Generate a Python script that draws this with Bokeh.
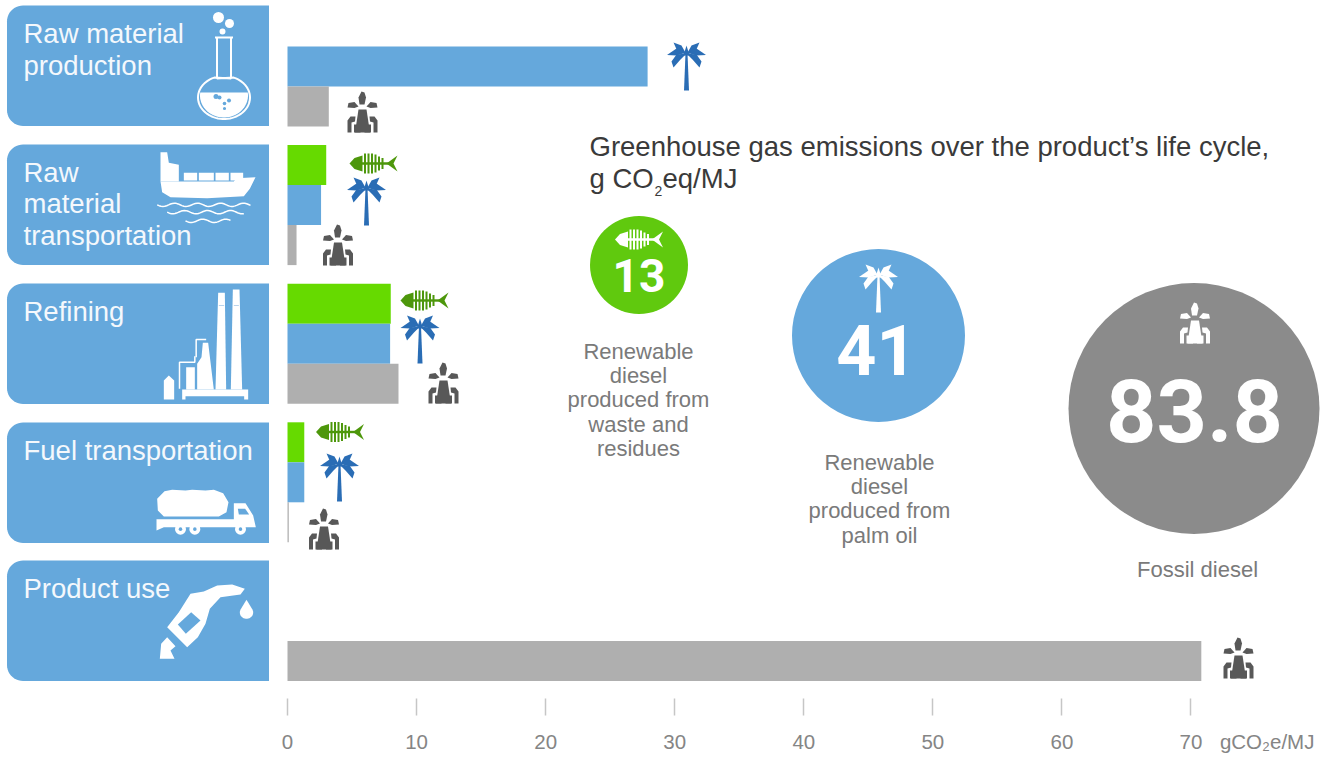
import numpy as np
from bokeh.embed import file_html
from bokeh.resources import INLINE
from bokeh.plotting import figure
from bokeh.models import Range1d, FixedTicker, Label

# ---------- data ----------
stages = ["Raw material production", "Raw material transportation", "Refining", "Fuel transportation", "Product use"]
waste_values = [None, 3.0, 8.0, 1.3, None]
palm_values = [27.9, 2.6, 7.95, 1.3, None]
fossil_values = [3.2, 0.7, 8.6, 0.1, 70.8]
axis_ticks = [0, 10, 20, 30, 40, 50, 60, 70]
totals = ["13", "41", "83.8"]
panel_lines = [["Raw material", "production"], ["Raw", "material", "transportation"], ["Refining"], ["Fuel transportation"], ["Product use"]]
captions = [["Renewable", "diesel", "produced from", "waste and", "residues"], ["Renewable", "diesel", "produced from", "palm oil"], ["Fossil diesel"]]
title_lines = ["Greenhouse gas emissions over the product\u2019s life cycle,", "g CO", "eq/MJ"]
unit_label = "gCO\u2082e/MJ"

# ---------- style ----------
BLUE = "#65A8DC"; GREEN = "#66DA00"; GREY = "#AFAFAF"
CGREEN = "#60C90E"; CGREY = "#8B8B8B"
PALM = "#2A6DB5"; FISH = "#4D970B"; PUMP = "#585858"
W, H, FH = 1335, 758, 698
PX_PER_UNIT = 12.907; X0 = 287.0
PITCH = 138.6; Y0 = 66.0; BAR = 40.0
UNIT_AT = 75.9

p = figure(width=W, height=H, output_backend="svg", toolbar_location=None, min_border=0,
           min_border_bottom=H - FH, frame_width=W, frame_height=FH,
           x_range=Range1d(-X0 / PX_PER_UNIT, (W - X0) / PX_PER_UNIT),
           y_range=Range1d((FH - Y0) / PITCH, -Y0 / PITCH))
p.extra_x_ranges["px"] = Range1d(0, W)
p.extra_y_ranges["px"] = Range1d(FH, 0)
p.outline_line_color = None
p.grid.visible = False
p.yaxis.visible = False
ax = p.xaxis[0]
# the unit is carried as one more labelled tick; the visible tick marks are the ones at the numbers
ax.ticker = FixedTicker(ticks=axis_ticks + [UNIT_AT], minor_ticks=axis_ticks)
ax.major_label_overrides = {UNIT_AT: unit_label}
ax.axis_line_color = None
ax.major_tick_line_color = None
ax.major_tick_in = 0
ax.major_tick_out = 17
ax.minor_tick_line_color = "#c6c6c6"
ax.minor_tick_line_width = 1.5
ax.minor_tick_in = 0
ax.minor_tick_out = 17
ax.major_label_text_font = "Liberation Sans"
ax.major_label_text_font_size = "20.5px"
ax.major_label_text_color = "#858585"
ax.major_label_standoff = 14

PK = dict(x_range_name="px", y_range_name="px")

def poly(xs, ys, color):
    p.patch(list(xs), list(ys), fill_color=color, line_color=None, **PK)

def line(xs, ys, color, w=2):
    p.line(list(xs), list(ys), line_color=color, line_width=w, **PK)

def dot(x, y, r, color):
    p.circle([x], [y], radius=r, fill_color=color, line_color=None, **PK)

def txt(x, y, s, size, color, align="left", font="Liberation Sans", style="normal"):
    p.add_layout(Label(x=x, y=y, text=s, text_font=font, text_font_size=f"{size}px", text_color=color,
                       text_align=align, text_baseline="middle", text_font_style=style, **PK))

# ---------- panels ----------
panel_tops = [5, 144, 283, 422, 560]
for top in panel_tops:
    bot = top + 120.5
    r = 16.0
    t = np.linspace(0, np.pi / 2, 12)
    xs = [268.5, 268.5] + list(6.5 + r - r * np.sin(t)) + list(6.5 + r - r * np.cos(t))
    ys = [top, bot] + list(bot - r + r * np.cos(t)) + list(top + r - r * np.sin(t))
    poly(xs, ys, BLUE)

line_tops = [[33, 65], [172, 203, 235], [311], [450], [588]]
for lines, ys in zip(panel_lines, line_tops):
    for s, y in zip(lines, ys):
        txt(23, y, s, 27.5, "#F4F8FC")

# ---------- bars ----------
for vals, off, col in ((waste_values, -1, GREEN), (palm_values, 0, BLUE), (fossil_values, 1, GREY)):
    ys = [i + off * BAR / PITCH for i, v in enumerate(vals) if v is not None]
    rs = [v for v in vals if v is not None]
    p.hbar(y=ys, left=0, right=rs, height=BAR / PITCH, fill_color=col, line_color=None)

# ---------- pictograms ----------
def palm(cx, cy, color):
    poly([cx - 1, cx + 1, cx + 2.5, cx - 2.5], [cy, cy, cy + 37, cy + 37], color)
    for m in (-1, 1):
        poly([cx, cx + m * 5, cx + m * 13, cx + m * 9], [cy + 1, cy - 8, cy - 11, cy - 2], color)
        poly([cx, cx + m * 10, cx + m * 19.5, cx + m * 10], [cy - 1, cy - 5, cy + 1.5, cy + 2], color)
        poly([cx, cx + m * 10, cx + m * 15, cx + m * 13, cx + m * 6], [cy, cy + 1, cy + 8, cy + 14, cy + 6], color)
    poly([cx - 3, cx, cx + 3], [cy + 2, cy - 8, cy + 2], color)

def fish(cx, cy, color):
    poly([cx - 24, cx - 19, cx - 11, cx - 11, cx - 19], [cy, cy - 5.5, cy - 8, cy + 8, cy + 5.5], color)
    poly([cx - 12, cx + 16, cx + 16, cx - 12], [cy - 1.2, cy - 1.2, cy + 1.2, cy + 1.2], color)
    for dx, h in ((-8.5, 10), (-5, 10), (-1.5, 10), (2, 9), (5.5, 7), (9, 5.5)):
        poly([cx + dx - 1, cx + dx + 1, cx + dx + 1, cx + dx - 1], [cy - h, cy - h, cy + h, cy + h], color)
    poly([cx + 13, cx + 24, cx + 20, cx + 24], [cy, cy - 8, cy, cy + 8], color)

def pump(cx, top, color):
    poly([cx - 1, cx - 4, cx - 3, cx + 2, cx + 3.5, cx + 2], [top, top + 6, top + 13, top + 13, top + 6, top + 1], color)
    for m in (-1, 1):
        poly([cx + m * 4, cx + m * 8, cx + m * 14, cx + m * 15, cx + m * 8],
             [top + 15, top + 10.5, top + 11.5, top + 16, top + 16.5], color)
        poly([cx + m * 7, cx + m * 12, cx + m * 15, cx + m * 15, cx + m * 11, cx + m * 11, cx + m * 7.5],
             [top + 25, top + 25, top + 29, top + 41, top + 41, top + 31, top + 30], color)
        poly([cx + m * 2, cx + m * 2, cx + m * 8.5, cx + m * 8.5], [top + 33, top + 41, top + 41, top + 33], color)
    poly([cx - 4, cx + 4, cx + 7.5, cx - 7.5], [top + 18, top + 18, top + 41, top + 41], color)

for x, y in ((686, 53), (366, 188), (419.5, 326), (339, 464)):
    palm(x, y, PALM)
for x, y in ((373, 163), (424, 300), (339.5, 431.5)):
    fish(x, y, FISH)
for x, y in ((362, 91), (337.5, 224), (443, 362), (323.5, 508), (1238, 637)):
    pump(x, y, PUMP)

WHITE = "#FFFFFF"
# flask
a = np.radians(np.linspace(-68, 248, 60))
line([216.5, 216.5] + list(223.5 + 26 * np.cos(a)) + [230.5, 230.5],
     [37, 78] + list(97 + 21.5 * np.sin(a)) + [78, 37], WHITE, 2)
line([214.5, 232.5], [37, 37], WHITE, 2)
b = np.radians(np.linspace(-8, 188, 40))
poly(list(223.5 + 24 * np.cos(b)), list(95 + 22 * np.sin(b)), WHITE)
for x, y, r in ((218, 17, 5.5), (229, 23, 4.5), (222, 31, 3)):
    dot(x, y, r, WHITE)
for x, y, r in ((215.5, 96, 2.5), (219, 97, 2), (224, 103, 1.8), (228.5, 100, 2), (224, 108, 1.6)):
    dot(x, y, r, BLUE)

# ship (local coords are a 3x sketch)
def Z(ox, oy, pts):
    return [ox + q[0] / 3 for q in pts], [oy + q[1] / 3 for q in pts]
S = (150, 145)
poly(*Z(*S, [(30, 108), (250, 108), (258, 98), (315, 95), (298, 130), (280, 152), (170, 158), (60, 155), (35, 140)]), WHITE)
poly(*Z(*S, [(30, 20), (50, 20), (55, 52), (85, 58), (85, 108), (30, 108)]), WHITE)
for a0, a1 in ((100, 140), (145, 190), (195, 235), (240, 278)):
    poly(*Z(*S, [(a0, 82), (a1, 82), (a1, 105), (a0, 105)]), WHITE)
for x0, x1, y0 in ((20, 300, 178), (50, 280, 200), (105, 240, 226)):
    xx = np.linspace(x0, x1, 50)
    line(150 + xx / 3, 145 + (y0 + 5 * np.sin((xx - x0) / 11)) / 3, WHITE, 1.5)

# refinery
R = (155, 285)
poly(*Z(*R, [(188, 22), (208, 22), (212, 312), (180, 312)]), WHITE)
poly(*Z(*R, [(232, 12), (252, 12), (260, 312), (226, 312)]), WHITE)
poly(*Z(*R, [(80, 312), (278, 312), (278, 342), (266, 342), (266, 332), (90, 332), (90, 342), (80, 342)]), WHITE)
poly(*Z(*R, [(142, 172), (158, 172), (175, 312), (125, 312), (125, 235), (138, 215)]), WHITE)
poly(*Z(*R, [(92, 245), (118, 245), (118, 312), (92, 312)]), WHITE)
poly(*Z(*R, [(25, 285), (40, 270), (56, 285), (56, 342), (25, 342)]), WHITE)
line(*Z(*R, [(122, 215), (122, 162), (152, 162)]), WHITE, 1.5)
line(*Z(*R, [(72, 310), (72, 230), (118, 230), (118, 212)]), WHITE, 1.5)
line(*Z(*R, [(190, 60), (206, 60)]), "#B9D4EC", 1)
line(*Z(*R, [(235, 60), (250, 60)]), "#B9D4EC", 1)

# truck
T = (150, 480)
poly(*Z(*T, [(42, 32), (65, 28), (105, 30), (125, 28), (165, 30), (190, 28), (218, 38), (234, 65), (228, 95), (205, 108),
             (40, 108), (22, 90), (20, 55)]), WHITE)
poly(*Z(*T, [(18, 116), (250, 116), (250, 68), (285, 68), (308, 105), (316, 140), (150, 140), (40, 140), (18, 150)]), WHITE)
poly(*Z(*T, [(262, 85), (284, 85), (296, 102), (265, 102)]), BLUE)
for cx in (90, 133, 270):
    dot(150 + cx / 3, 480 + 146 / 3, 5.5, WHITE)
    dot(150 + cx / 3, 480 + 146 / 3, 1.8, BLUE)

# nozzle
N = (150, 480)
poly(*Z(*N, [(283, 325), (245, 312), (200, 315), (160, 333), (120, 340), (85, 395), (50, 440), (110, 500), (142, 470),
             (165, 430), (178, 385), (210, 350), (270, 342)]), WHITE)
poly(*Z(*N, [(82, 432), (122, 395), (150, 420), (106, 460)]), BLUE)
poly(*Z(*N, [(28, 535), (32, 490), (50, 470), (75, 497), (60, 510), (72, 535)]), WHITE)
q = np.radians(np.linspace(-30, 210, 24))
poly(list(150 + np.array([288] + list(288 + 20 * np.cos(q))) / 3), list(480 + np.array([358] + list(396 + 19 * np.sin(q))) / 3), WHITE)

# ---------- title ----------
TC = "#3A3A3A"
txt(589, 146, title_lines[0], 27.5, TC)
txt(589, 178, title_lines[1], 27.5, TC)
txt(654, 190, "2", 14, TC)
txt(662, 178, title_lines[2], 27.5, TC)

# ---------- total circles ----------
BIG = "Roboto"
p.circle([638.5, 878, 1193.5], [264.5, 335, 408], radius=[49, 86.5, 125.5], fill_color=[CGREEN, BLUE, CGREY], line_color=None, **PK)
fish(638.5, 239, WHITE)
palm(878, 275, WHITE)
pump(1194.5, 302, WHITE)
txt(638.5, 275, totals[0], 46, WHITE, "center", BIG, "bold")
txt(876, 349, totals[1], 70, WHITE, "center", BIG, "bold")
txt(1194, 410, totals[2], 88, WHITE, "center", BIG, "bold")

# ---------- captions ----------
for lines, cx, y0 in zip(captions, (638, 879, 1197), (350.5, 461.5, 568.5)):
    for i, s in enumerate(lines):
        txt(cx, y0 + i * 24.4, s, 22, "#7A7A7A", "center")

open("out.html", "w").write(file_html(p, INLINE))
